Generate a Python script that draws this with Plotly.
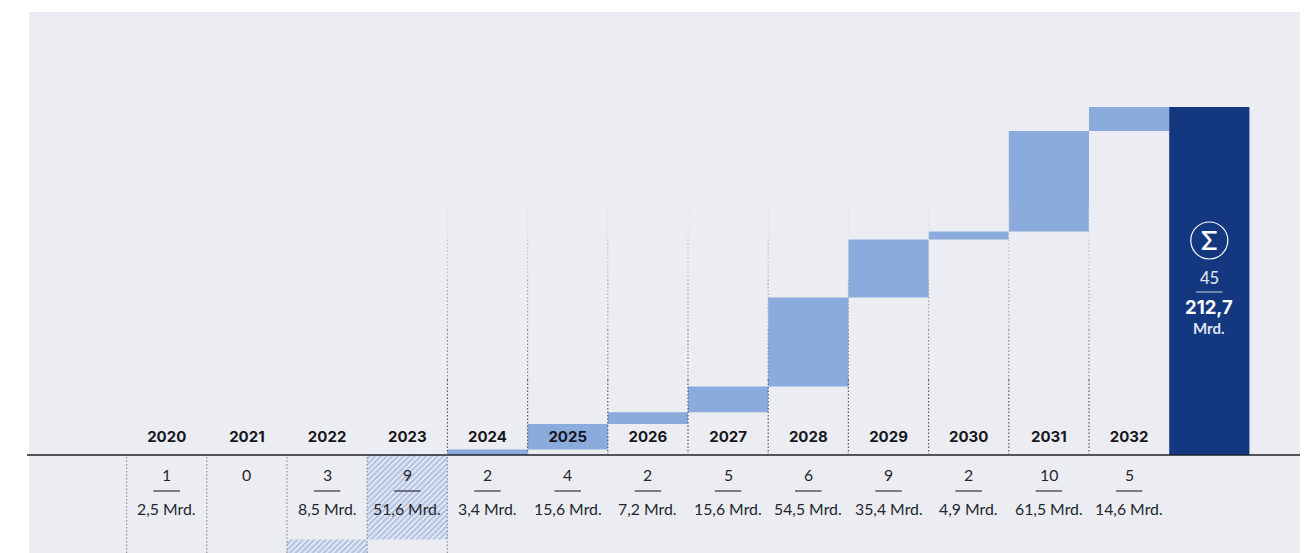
import plotly.graph_objects as go

years = ["2020","2021","2022","2023","2024","2025","2026","2027","2028","2029","2030","2031","2032"]
counts = [1,0,3,9,2,4,2,5,6,9,2,10,5]
volumes = [2.5,0,8.5,51.6,3.4,15.6,7.2,15.6,54.5,35.4,4.9,61.5,14.6]
labels = ["2,5 Mrd.","","8,5 Mrd.","51,6 Mrd.","3,4 Mrd.","15,6 Mrd.","7,2 Mrd.","15,6 Mrd.","54,5 Mrd.","35,4 Mrd.","4,9 Mrd.","61,5 Mrd.","14,6 Mrd."]
total_count = 45
total_volume = 212.7
total_label = "212,7"

W, H = 1306, 553
Y0 = 455; TOP = 107; XL = 126.6; STEP = 80.2
scale = (Y0 - TOP) / total_volume
SPLIT = 4

xs = list(range(len(years)))
past_x = xs[:SPLIT]; past_v = volumes[:SPLIT]
past_base = []
for i in range(SPLIT):
    past_base.append(-sum(volumes[i:SPLIT]))
future_x = xs[SPLIT:]; future_v = volumes[SPLIT:]
future_base = []
acc = 0
for v in future_v:
    future_base.append(acc); acc += v

LIGHT = "#8aabdb"; NAVY = "#14387f"; BG = "#ecedf3"; INK = "#1f2229"
YEAR_FONT = dict(family="Inter", size=15, color="#16181e", weight=700)
TXT_FONT = dict(family="Lato", size=15.8, color="#23262e")

fig = go.Figure()
fig.add_bar(x=past_x, y=past_v, base=past_base, width=1,
            marker=dict(color=BG, line_width=0,
                        pattern=dict(shape="/", fgcolor="#7396d2", bgcolor=BG, size=4, solidity=0.55)))
fig.add_bar(x=future_x, y=future_v, base=future_base, width=1, marker=dict(color=LIGHT, line_width=0))
fig.add_bar(x=[len(years)], y=[total_volume], base=[0], width=1, marker=dict(color=NAVY, line_width=0))

def ypaper(p):
    return 1 - p / H

shapes = [dict(type="rect", xref="paper", yref="paper", x0=29/W, x1=1300/W, y0=0, y1=ypaper(12),
               fillcolor=BG, line_width=0, layer="below"),
          dict(type="line", xref="paper", yref="y", x0=27/W, x1=1300/W, y0=0, y1=0,
               line=dict(color="#1f2229", width=1.5), layer="above")]
# dotted separators: below the baseline for the past years, above it for the later ones
for k in range(0, 5):
    shapes.append(dict(type="line", xref="x", yref="paper", x0=k-0.5, x1=k-0.5, y0=0, y1=ypaper(Y0),
                       line=dict(color="#8f929b", width=1.2, dash="1.5px 2px"), layer="above"))
fade = [(Y0, 380, "#55585f"), (380, 330, "#85878f"), (330, 280, "#a6a8b0"), (280, 240, "#c2c4cb"), (240, 205, "#dcdde3")]
for k in range(4, 13):
    for p0, p1, col in fade:
        shapes.append(dict(type="line", xref="x", yref="paper", x0=k-0.5, x1=k-0.5, y0=ypaper(p0), y1=ypaper(p1),
                           line=dict(color=col, width=1.2, dash="1.5px 2px"), layer="above"))
# rules between count and volume
for i, c in enumerate(counts):
    if c:
        shapes.append(dict(type="line", xref="x", yref="paper", x0=i-0.165, x1=i+0.165,
                           y0=ypaper(491), y1=ypaper(491), line=dict(color=INK, width=1.1)))
tx = len(years)
shapes.append(dict(type="line", xref="x", yref="paper", x0=tx-0.165, x1=tx+0.165, y0=ypaper(292), y1=ypaper(292),
                   line=dict(color="#c9d2e6", width=1)))
shapes.append(dict(type="circle", xref="x", yref="paper", x0=tx-18.5/STEP, x1=tx+18.5/STEP,
                   y0=ypaper(259), y1=ypaper(222), line=dict(color="#ffffff", width=1.2)))
fig.update_layout(shapes=shapes)

ann = []
for i in xs:
    ann.append(dict(x=i, y=ypaper(474.5), xref="x", yref="paper", text=str(counts[i]), showarrow=False,
                    font=TXT_FONT, xanchor="center", yanchor="middle"))
    if labels[i]:
        ann.append(dict(x=i, y=ypaper(508.5), xref="x", yref="paper", text=labels[i], showarrow=False,
                        font=TXT_FONT, xanchor="center", yanchor="middle"))
ann += [
    dict(x=tx, y=ypaper(240), xref="x", yref="paper", text="Σ", showarrow=False,
         font=dict(family="Lato", size=27, color="#ffffff", weight=600), yanchor="middle"),
    dict(x=tx, y=ypaper(278), xref="x", yref="paper", text=str(total_count), showarrow=False,
         font=dict(family="Lato", size=16.5, color="#dfe4f0", weight=500), yanchor="middle"),
    dict(x=tx, y=ypaper(307), xref="x", yref="paper", text=total_label, showarrow=False,
         font=dict(family="Inter", size=18.5, color="#ffffff", weight=700), yanchor="middle"),
    dict(x=tx, y=ypaper(328), xref="x", yref="paper", text="Mrd.", showarrow=False,
         font=dict(family="Lato", size=15, color="#dfe4f0", weight=700), yanchor="middle"),
]

fig.update_layout(
    width=W, height=H, margin=dict(l=0, r=0, t=0, b=0),
    paper_bgcolor="#ffffff", plot_bgcolor="rgba(0,0,0,0)",
    showlegend=False, barmode="overlay", annotations=ann,
    xaxis=dict(range=[-0.5 - XL/STEP, -0.5 + (W-XL)/STEP], tickmode="array", tickvals=xs, ticktext=years,
               showgrid=False, zeroline=False, showline=False, ticks="",
               anchor="free", position=ypaper(425.5), tickfont=YEAR_FONT, automargin=False),
    yaxis=dict(range=[-(H-Y0)/scale, Y0/scale], showgrid=False, zeroline=False, showticklabels=False,
               ticks="", showline=False, automargin=False),
)
fig.write_html("out.html", config=dict(displayModeBar=False),
               post_script="document.body.style.margin='0';document.documentElement.style.overflow='hidden';")
